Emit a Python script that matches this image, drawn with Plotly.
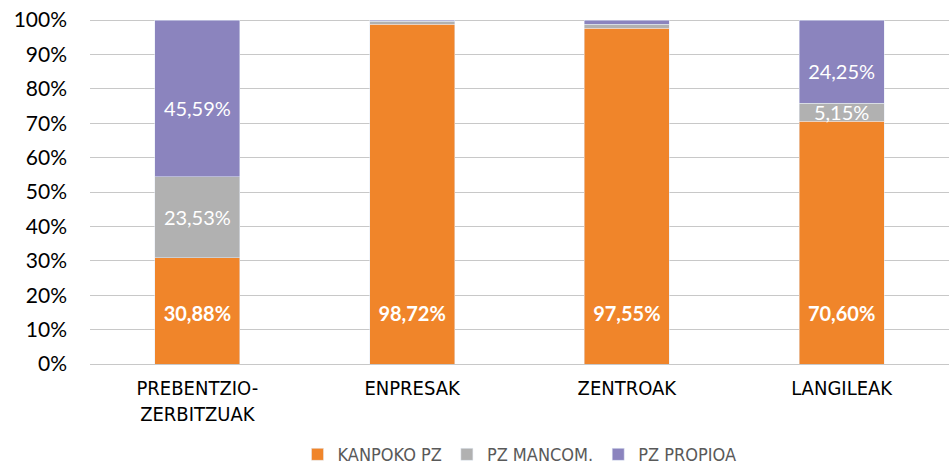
import numpy as np
import plotly.graph_objects as go

categories = ["PREBENTZIO-<br>ZERBITZUAK", "ENPRESAK", "ZENTROAK", "LANGILEAK"]
kanpoko_pz = [30.88, 98.72, 97.55, 70.60]
pz_mancom = [23.53, 0.90, 1.30, 5.15]
pz_propioa = [45.59, 0.38, 1.15, 24.25]
# which segment values carry a printed label
show_mancom = [True, False, False, True]
show_propioa = [True, False, False, True]
tick_vals = [0, 10, 20, 30, 40, 50, 60, 70, 80, 90, 100]
tick_text = ["0%", "10%", "20%", "30%", "40%", "50%", "60%", "70%", "80%", "90%", "100%"]

ORANGE = "#F0852A"
GRAY = "#B1B1B1"
PURPLE = "#8B84BE"
NARROW = "DejaVu Sans Condensed, Liberation Sans Narrow, sans-serif"


def fmt(v):
    return f"{v:.2f}".replace(".", ",") + "%"


fig = go.Figure()
fig.add_trace(go.Bar(name="KANPOKO PZ", x=categories, y=kanpoko_pz, marker_color=ORANGE,
                     hoverinfo="skip"))
fig.add_trace(go.Bar(name="PZ MANCOM.", x=categories, y=pz_mancom, marker_color=GRAY,
                     hoverinfo="skip"))
fig.add_trace(go.Bar(name="PZ PROPIOA", x=categories, y=pz_propioa, marker_color=PURPLE,
                     hoverinfo="skip"))

k = np.array(kanpoko_pz)
m = np.array(pz_mancom)
p = np.array(pz_propioa)

# orange labels: near base of the bar
fig.add_trace(go.Scatter(x=categories, y=np.minimum(k / 2, 14.0), mode="text",
                         text=[fmt(v) for v in kanpoko_pz],
                         textfont=dict(family="Lato", size=20, color="white", weight="bold"),
                         showlegend=False, hoverinfo="skip", cliponaxis=False))
mc = k + m / 2 - 0.8
fig.add_trace(go.Scatter(x=[c for c, s in zip(categories, show_mancom) if s],
                         y=[y for y, s in zip(mc, show_mancom) if s], mode="text",
                         text=[fmt(v) for v, s in zip(pz_mancom, show_mancom) if s],
                         textfont=dict(family="Lato", size=20, color="white"),
                         showlegend=False, hoverinfo="skip", cliponaxis=False))
pc = k + m + p / 2 - 3.5
fig.add_trace(go.Scatter(x=[c for c, s in zip(categories, show_propioa) if s],
                         y=[y for y, s in zip(pc, show_propioa) if s], mode="text",
                         text=[fmt(v) for v, s in zip(pz_propioa, show_propioa) if s],
                         textfont=dict(family="Lato", size=20, color="white"),
                         showlegend=False, hoverinfo="skip", cliponaxis=False))

fig.update_layout(
    barmode="stack",
    bargap=0.605,
    width=949, height=466,
    margin=dict(l=90, r=0, t=18, b=102, autoexpand=False),
    plot_bgcolor="white", paper_bgcolor="white",
    showlegend=True,
    legend=dict(orientation="h", x=0.5, xanchor="center", y=-0.262,
                yanchor="middle", font=dict(family=NARROW, size=18, color="#595959"),
                traceorder="normal", itemwidth=30),
    xaxis=dict(showgrid=False, showline=False, zeroline=False, ticks="",
               tickfont=dict(family=NARROW, size=20, color="#000000"),
               ticklabelstandoff=10),
    yaxis=dict(range=[0, 100.6], tickvals=tick_vals, ticktext=tick_text,
               showgrid=True, gridcolor="#C8C8C8", gridwidth=1,
               zeroline=True, zerolinecolor="#C8C8C8", zerolinewidth=1,
               showline=False, ticks="",
               tickfont=dict(family="Lato", size=21, color="#000000"),
               ticklabelstandoff=22),
)

fig.write_html("out.html", config={"displayModeBar": False},
               post_script="document.body.style.margin='0px';document.body.style.overflow='hidden';")
